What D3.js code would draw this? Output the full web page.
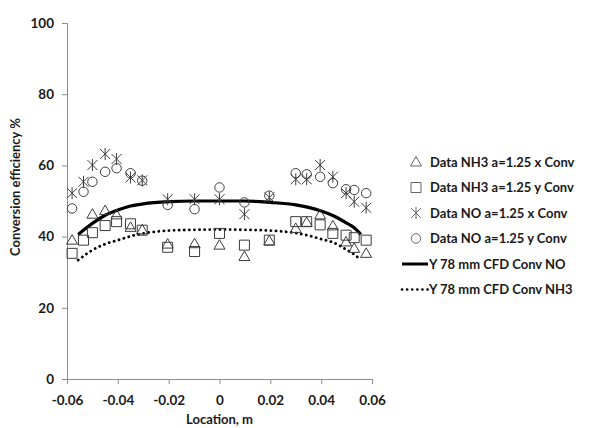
<!DOCTYPE html>
<html>
<head>
<meta charset="utf-8">
<script src="https://cdn.jsdelivr.net/npm/d3@7"></script>
<style>
  body { margin: 0; background: #fff; }
  svg text { font-family: Lato, "Open Sans", sans-serif; font-weight: bold; fill: #1a1a1a; }
</style>
</head>
<body>
<div class="container"></div>
<script>
// measurement locations (m)
const locations = [-0.058, -0.0535, -0.05, -0.045, -0.0405, -0.035, -0.0304, -0.0204, -0.0098,
  0, 0.0098, 0.0196, 0.03, 0.0343, 0.0396, 0.0446, 0.0498, 0.053, 0.0577];
const nh3X = [39.0, null, 46.3, 47.3, 46.1, 42.6, 41.9, 37.9, 38.0,
  37.6, 34.4, 38.8, 42.3, 44.0, 46.1, 43.0, 38.5, 36.7, 35.3];
const nh3Y = [35.3, 39.0, 41.1, 43.1, 44.2, 43.6, 41.8, 37.0, 35.8,
  40.9, 37.6, 39.0, 44.2, 44.2, 43.3, 40.9, 40.4, 39.7, 39.0];
const noX = [52.2, 55.4, 60.1, 63.2, 61.8, 56.6, 55.8, 50.5, 50.5,
  50.5, 46.3, 51.0, 56.1, 56.1, 60.1, 56.8, 52.2, 49.8, 48.1];
const noY = [47.9, 52.6, 55.4, 58.2, 59.2, 57.8, 55.7, 48.9, 47.7,
  53.8, 49.6, 51.5, 57.8, 57.5, 56.8, 55.0, 53.3, 53.1, 52.2];

// CFD profiles at Y 78 mm
const cfdX = [-0.0556, -0.05, -0.045, -0.04, -0.035, -0.03, -0.02, -0.01, 0,
  0.01, 0.02, 0.03, 0.035, 0.04, 0.045, 0.05, 0.053, 0.0556];
const cfdNO = [40.6, 43.7, 46.0, 47.5, 48.6, 49.2, 49.8, 50.0, 50.0,
  50.0, 49.6, 48.9, 48.2, 47.2, 45.8, 43.8, 42.5, 40.6];
const cfdNH3 = [33.4, 36.2, 37.9, 39.0, 40.1, 40.9, 41.7, 41.9, 42.0,
  41.9, 41.7, 41.0, 40.3, 39.3, 38.3, 36.3, 35.0, 33.4];

const xTicks = [-0.06, -0.04, -0.02, 0, 0.02, 0.04, 0.06];
const yTicks = [0, 20, 40, 60, 80, 100];

const legendItems = [
  { type: 'triangle', label: 'Data NH3 a=1.25 x Conv' },
  { type: 'square', label: 'Data NH3 a=1.25 y Conv' },
  { type: 'star', label: 'Data NO a=1.25 x Conv' },
  { type: 'circle', label: 'Data NO a=1.25 y Conv' },
  { type: 'solid', label: 'Y 78 mm CFD Conv NO' },
  { type: 'dotted', label: 'Y 78 mm CFD Conv NH3' },
];

const width = 589;
const height = 428;
const margin = { left: 67, right: 217, top: 23, bottom: 49 };

const svg = d3
  .select('.container')
  .append('svg')
  .attr('width', width)
  .attr('height', height);

const xScale = d3
  .scaleLinear()
  .domain([-0.06, 0.06])
  .range([margin.left, width - margin.right]);

const yScale = d3
  .scaleLinear()
  .domain([0, 100])
  .range([height - margin.bottom, margin.top]);

const axisColor = '#8c8c8c';

// y axis
const yAxis = svg
  .append('g')
  .attr('transform', `translate(${margin.left},0)`)
  .call(d3.axisLeft(yScale).tickValues(yTicks).tickSize(5).tickPadding(8).tickFormat(d3.format('d')));
yAxis.select('.domain').attr('stroke', axisColor);
yAxis.selectAll('.tick line').attr('stroke', axisColor);
yAxis.selectAll('.tick text').style('font-size', '13.5px').attr('fill', '#1a1a1a');

// x axis sits on y = 0, plain hyphen for negatives
const xAxis = svg
  .append('g')
  .attr('transform', `translate(0,${yScale(0)})`)
  .call(d3.axisBottom(xScale).tickValues(xTicks).tickSize(5).tickPadding(11)
    .tickFormat((d) => (d === 0 ? '0' : d.toFixed(2))));
xAxis.select('.domain').attr('stroke', axisColor);
xAxis.selectAll('.tick line').attr('stroke', axisColor);
xAxis.selectAll('.tick text').style('font-size', '13.5px').attr('fill', '#1a1a1a');

svg
  .append('text')
  .attr('x', xScale(0))
  .attr('y', 424)
  .attr('text-anchor', 'middle')
  .style('font-size', '13px')
  .text('Location, m');

svg
  .append('text')
  .attr('transform', 'rotate(-90)')
  .attr('x', -187)
  .attr('y', 20)
  .attr('text-anchor', 'middle')
  .style('font-size', '13px')
  .text('Conversion efficiency %');

// CFD lines
const line = (vals) =>
  d3.line()
    .x((d, i) => xScale(cfdX[i]))
    .y((d) => yScale(d))
    .curve(d3.curveMonotoneX)(vals);

svg.append('path')
  .attr('d', line(cfdNO))
  .attr('fill', 'none')
  .attr('stroke', '#000')
  .attr('stroke-width', 3.2);

svg.append('path')
  .attr('d', line(cfdNH3))
  .attr('fill', 'none')
  .attr('stroke', '#000')
  .attr('stroke-width', 2.8)
  .attr('stroke-linecap', 'round')
  .attr('stroke-dasharray', '0.1,5');

// marker shapes
const markerColor = '#3c3c3c';
const markerPath = (type) => {
  if (type === 'triangle') return 'M0,-5.5L5.5,4L-5.5,4Z';
  if (type === 'square') return 'M-5,-5H5V5H-5Z';
  if (type === 'circle') return d3.symbol().type(d3.symbolCircle).size(70)();
  // star: vertical bar plus diagonal cross
  return 'M0,-6V6M-5,-5L5,5M5,-5L-5,5';
};

const drawMarkers = (vals, type) => {
  svg
    .append('g')
    .selectAll('path')
    .data(locations.map((x, i) => ({ x, v: vals[i] })).filter((d) => d.v !== null))
    .enter()
    .append('path')
    .attr('transform', (d) => `translate(${xScale(d.x)},${yScale(d.v)})`)
    .attr('d', markerPath(type))
    .attr('fill', 'none')
    .attr('stroke', markerColor)
    .attr('stroke-width', 1);
};

drawMarkers(nh3X, 'triangle');
drawMarkers(nh3Y, 'square');
drawMarkers(noX, 'star');
drawMarkers(noY, 'circle');

// legend
const legend = svg.append('g').attr('id', 'legend');
legendItems.forEach((item, i) => {
  const ly = 162 + i * 25.5;
  const g = legend.append('g');
  if (item.type === 'solid' || item.type === 'dotted') {
    g.append('line')
      .attr('x1', 402).attr('x2', 428)
      .attr('y1', ly).attr('y2', ly)
      .attr('stroke', '#000')
      .attr('stroke-width', item.type === 'solid' ? 3 : 2.6)
      .attr('stroke-linecap', item.type === 'solid' ? 'butt' : 'round')
      .attr('stroke-dasharray', item.type === 'solid' ? null : '0.1,5');
    g.append('text')
      .attr('x', 429).attr('y', ly + 4.5)
      .style('font-size', '13px')
      .text(item.label);
  } else {
    g.append('path')
      .attr('transform', `translate(416,${ly})`)
      .attr('d', markerPath(item.type))
      .attr('fill', 'none')
      .attr('stroke', '#666')
      .attr('stroke-width', 1);
    g.append('text')
      .attr('x', 430).attr('y', ly + 4.5)
      .style('font-size', '13px')
      .text(item.label);
  }
});
</script>
</body>
</html>
